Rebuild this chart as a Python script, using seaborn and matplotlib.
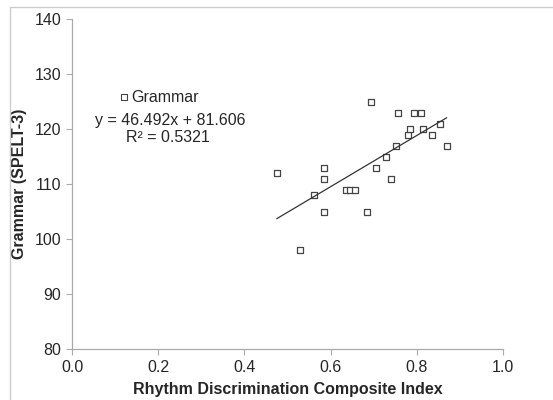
import numpy as np
import pandas as pd
import seaborn as sns
import matplotlib.pyplot as plt
from matplotlib.patches import Rectangle

# rhythm discrimination composite index vs SPELT-3 grammar score
rhythm = [0.475, 0.530, 0.561, 0.585, 0.585, 0.585, 0.635, 0.646, 0.656, 0.685,
          0.694, 0.706, 0.730, 0.740, 0.751, 0.756, 0.780, 0.785, 0.795, 0.810,
          0.816, 0.835, 0.855, 0.870]
grammar = [112, 98, 108, 113, 111, 105, 109, 109, 109, 105,
           125, 113, 115, 111, 117, 123, 119, 120, 123, 123,
           120, 119, 121, 117]
slope, intercept, r2 = 46.492, 81.606, 0.5321
x_ticks = [0.0, 0.2, 0.4, 0.6, 0.8, 1.0]
y_ticks = [80, 90, 100, 110, 120, 130, 140]

data = pd.DataFrame({'rhythm': rhythm, 'grammar': grammar})

sns.set_style('white')
plt.rcParams['font.family'] = ['Liberation Sans', 'DejaVu Sans']

fig = plt.figure(figsize=(5.53, 4), dpi=100)
ax = fig.add_axes([0.1307, 0.1275, 0.7783, 0.825])

# chart-area border like the Excel original
fig.patches.append(Rectangle((10 / 553, -0.1), 1.2, 1 - 7 / 400 + 0.1,
                             transform=fig.transFigure, fill=False,
                             edgecolor='#cccccc', linewidth=1))

sns.scatterplot(data=data, x='rhythm', y='grammar', ax=ax, marker='s', s=20,
                facecolor='white', edgecolor='#444444', linewidth=0.9,
                label='Grammar', legend=False)

xs = np.array([min(rhythm), max(rhythm)])
ax.plot(xs, slope * xs + intercept, color='#333333', linewidth=0.9)

ax.set_xlim(0, 1.0)
ax.set_ylim(80, 140)
ax.set_xticks(x_ticks)
ax.set_yticks(y_ticks)
ax.set_xticklabels([f'{t:.1f}' for t in x_ticks])
ax.tick_params(axis='both', labelsize=11.5, length=4, width=0.8,
               color='#aaaaaa', direction='out', pad=4)
ax.tick_params(axis='x', bottom=True)
ax.tick_params(axis='y', left=True)
for side in ['top', 'right']:
    ax.spines[side].set_visible(False)
for side in ['left', 'bottom']:
    ax.spines[side].set_color('#aaaaaa')
    ax.spines[side].set_linewidth(0.9)

ax.set_xlabel('Rhythm Discrimination Composite Index', fontsize=11.5,
              fontweight='bold', labelpad=5)
ax.set_ylabel('Grammar (SPELT-3)', fontsize=11.5, fontweight='bold', labelpad=5)

# legend-like label and equation
ax.scatter([0.120], [125.8], marker='s', s=14, facecolor='white',
           edgecolor='#444444', linewidth=0.8, clip_on=False)
ax.text(0.138, 125.8, 'Grammar', fontsize=11.5, va='center', ha='left')
ax.text(0.227, 121.6, f'y = {slope}x + {intercept}', fontsize=11.5,
        va='center', ha='center')
ax.text(0.221, 118.5, f'R² = {r2}', fontsize=11.5, va='center', ha='center')

fig.savefig('out.png', dpi=100)
